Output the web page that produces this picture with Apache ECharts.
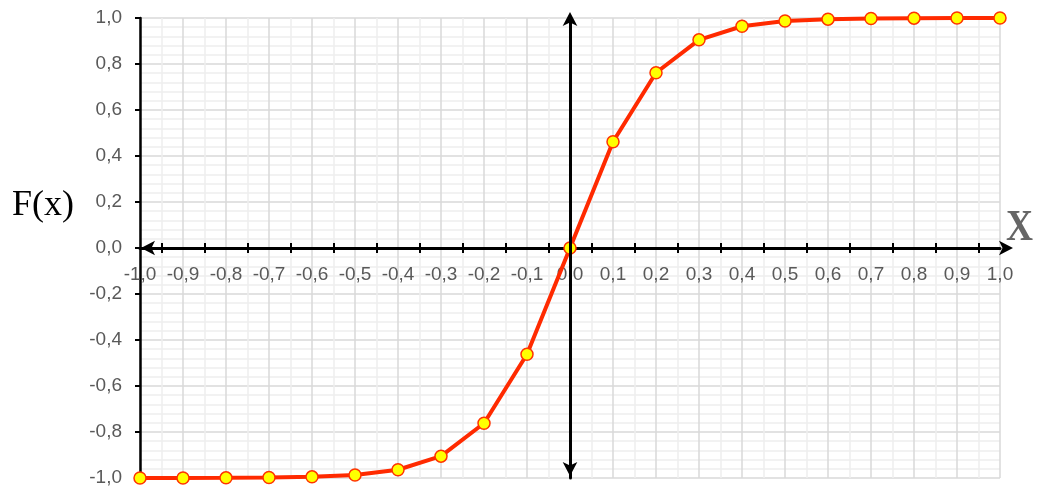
<!DOCTYPE html>
<html><head><meta charset="utf-8">
<script src="https://cdn.jsdelivr.net/npm/echarts@6/dist/echarts.min.js"></script>
<style>html,body{margin:0;padding:0;background:#fff}#c{width:1045px;height:488px}</style>
</head><body><div id="c"></div>
<script>
const xValues = [-1.0,-0.9,-0.8,-0.7,-0.6,-0.5,-0.4,-0.3,-0.2,-0.1,0.0,0.1,0.2,0.3,0.4,0.5,0.6,0.7,0.8,0.9,1.0];
const fValues = [-0.9999,-0.9998,-0.9993,-0.998,-0.995,-0.987,-0.964,-0.905,-0.762,-0.462,0.0,0.462,0.762,0.905,0.964,0.987,0.995,0.998,0.9993,0.9998,0.9999];
const yAxisLabel = 'F(x)';
const xAxisLabel = 'X';

const fmt = v => Number(v).toFixed(1).replace('-0.0','0.0').replace('.', ',');
const labelFont = {fontFamily:'Liberation Sans', fontSize:19, color:'#595959'};

const chart = echarts.init(document.getElementById('c'), null, {renderer:'canvas'});
chart.setOption({
  animation:false,
  backgroundColor:'#ffffff',
  grid:{left:140, right:45, top:18, bottom:10, containLabel:false, outerBoundsMode:'none'},
  xAxis:[{
    type:'value', min:-1, max:1, interval:0.1, position:'bottom', offset:-230,
    axisLine:{show:true, onZero:false, lineStyle:{color:'#000', width:3},
      symbol:['arrow','arrow'], symbolSize:[11,14], symbolOffset:[1,13]},
    axisTick:{show:false},
    minorTick:{show:true, splitNumber:2, length:5, lineStyle:{color:'#000', width:2}},
    axisLabel:Object.assign({margin:17, formatter:fmt, showMinLabel:true, showMaxLabel:true}, labelFont),
    splitLine:{show:true, lineStyle:{color:'#d9d9d9', width:1.5}},
    minorSplitLine:{show:true, lineStyle:{color:'#eeeeee', width:1.5}}
  },{
    type:'value', min:-1, max:1, interval:0.1, position:'bottom', offset:-230,
    axisLine:{show:false, onZero:false},
    axisTick:{show:false, inside:true},
    minorTick:{show:true, splitNumber:2, length:5, lineStyle:{color:'#000', width:2}},
    axisLabel:{show:false},
    splitLine:{show:false}
  }],
  yAxis:[{
    type:'value', min:-1, max:1, interval:0.2, position:'left',
    axisLine:{show:true, onZero:false, lineStyle:{color:'#000', width:2.5}},
    axisTick:{show:true, length:5, lineStyle:{color:'#000', width:2}},
    minorTick:{show:false, splitNumber:5},
    axisLabel:Object.assign({margin:18, formatter:fmt, showMinLabel:true, showMaxLabel:true}, labelFont),
    splitLine:{show:true, lineStyle:{color:'#d9d9d9', width:1.5}},
    minorSplitLine:{show:true, lineStyle:{color:'#eeeeee', width:1.5}}
  },{
    type:'value', min:-1, max:1, interval:0.2, position:'left', z:5,
    axisLine:{show:true, onZero:true, onZeroAxisIndex:0, lineStyle:{color:'#000', width:3},
      symbol:['arrow','arrow'], symbolSize:[11,14], symbolOffset:[2,6]},
    axisTick:{show:false},
    axisLabel:{show:false},
    splitLine:{show:false}
  }],
  series:[{
    type:'line', xAxisIndex:0, yAxisIndex:0,
    data:xValues.map((x,i)=>[x,fValues[i]]),
    symbol:'circle', symbolSize:12,
    lineStyle:{color:'#ff2a00', width:4},
    itemStyle:{color:'#ffff00', borderColor:'#ff3300', borderWidth:1.5},
    z:3
  }],
  graphic:[
    {type:'text', x:12, y:206, style:{text:yAxisLabel, align:'left', verticalAlign:'middle',
      font:'36px "Liberation Serif", "Times New Roman", serif', fill:'#000'}},
    {type:'text', x:1006, y:229, scaleX:0.85, style:{text:xAxisLabel, align:'left', verticalAlign:'middle',
      font:'bold 44px "Liberation Serif", "Times New Roman", serif', fill:'#666'}}
  ]
});
</script></body></html>
